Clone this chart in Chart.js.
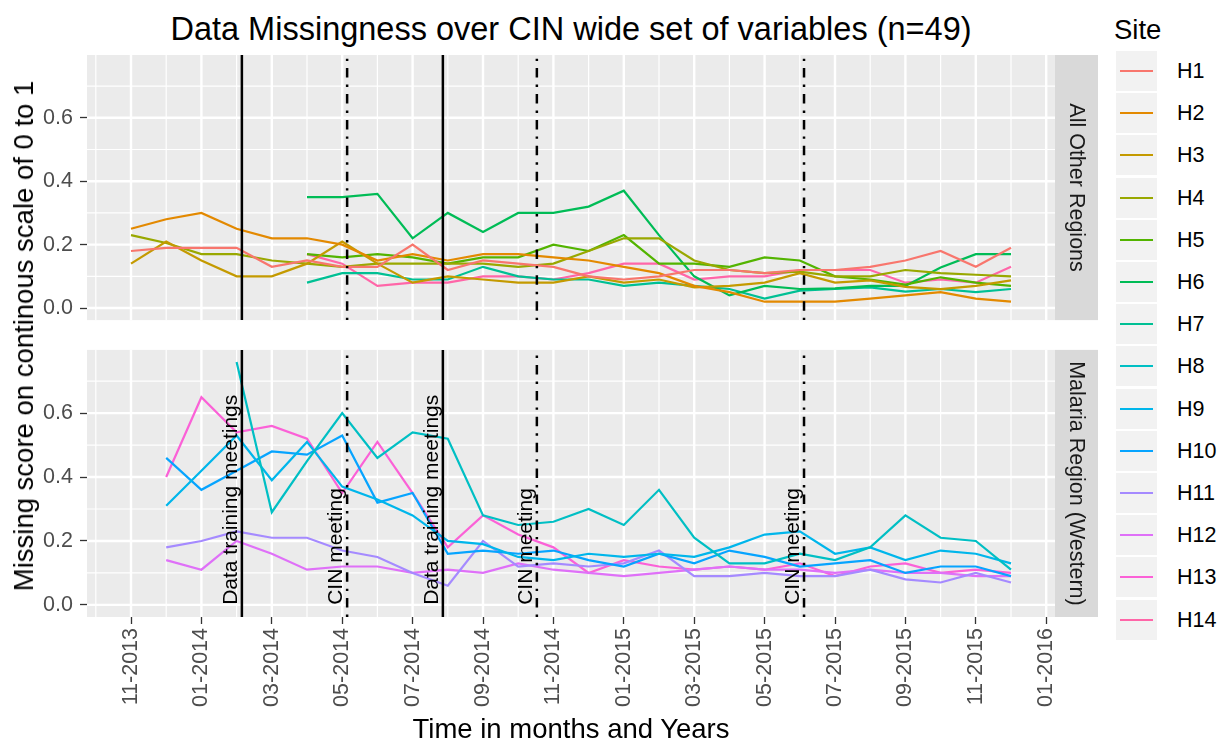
<!DOCTYPE html>
<html>
<head>
<meta charset="utf-8">
<script src="https://cdn.jsdelivr.net/npm/chart.js@4.4.1/dist/chart.umd.min.js"></script>
<style>
  body { margin: 0; background: #fff; }
  #wrap { position: relative; width: 1218px; height: 743px; font-family: "Liberation Sans", Arial, sans-serif; }
  canvas { position: absolute; left: 0; }
  .txt { position: absolute; color: #000; white-space: nowrap; }
  #legend { position: absolute; left: 1114px; top: 12px; }
  .key-row { position: absolute; left: 0; height: 42px; width: 110px; }
  .key { position: absolute; left: 2px; top: 0; width: 41px; height: 40px; background: #F2F2F2; }
  .key span { position: absolute; left: 4px; right: 4px; top: 19px; height: 2px; }
  .lab { position: absolute; left: 63px; top: 8px; font-size: 21.5px; color: #000; }
</style>
</head>
<body>
<div id="wrap">
  <div class="txt" style="left:86px;width:970px;text-align:center;top:9px;font-size:32.5px;line-height:40px;">Data Missingness over CIN wide set of variables (n=49)</div>
  <canvas id="topPanel" width="1100" height="340" style="top:0"></canvas>
  <canvas id="bottomPanel" width="1100" height="413" style="top:330px"></canvas>
  <div class="txt" style="left:86px;width:970px;text-align:center;top:713px;font-size:27.5px;line-height:32px;">Time in months and Years</div>
  <div class="txt" style="left:24px;top:336px;font-size:27.5px;line-height:32px;transform:translate(-50%,-50%) rotate(-90deg);">Missing score on continous scale of 0 to 1</div>
  <div id="legend"></div>
</div>
<script>
// month index 0 = 11-2013 ... 25 = 12-2015
const months = ['11-2013','12-2013','01-2014','02-2014','03-2014','04-2014','05-2014','06-2014','07-2014','08-2014',
  '09-2014','10-2014','11-2014','12-2014','01-2015','02-2015','03-2015','04-2015','05-2015','06-2015',
  '07-2015','08-2015','09-2015','10-2015','11-2015','12-2015'];
const tickMonths = [0,2,4,6,8,10,12,14,16,18,20,22,24,26];
const tickLabels = ['11-2013','01-2014','03-2014','05-2014','07-2014','09-2014','11-2014','01-2015','03-2015','05-2015','07-2015','09-2015','11-2015','01-2016'];
const minorMonths = [-1,1,3,5,7,9,11,13,15,17,19,21,23,25];
const yTicks = [0, 0.2, 0.4, 0.6];
const yMinor = [0.1, 0.3, 0.5, 0.7];

const sites = ['H1','H2','H3','H4','H5','H6','H7','H8','H9','H10','H11','H12','H13','H14'];
const siteColors = ['#F8766D','#E38900','#C49A00','#99A800','#53B400','#00BC56','#00C094',
  '#00BFC4','#00B6EB','#06A4FF','#A58AFF','#DF70F8','#FB61D7','#FF66A8'];
const topSites = ['H1','H2','H3','H4','H5','H6','H7','H14'];
const bottomSites = ['H8','H9','H10','H11','H12','H13'];

// All Other Regions
const H1 = [0.18,0.19,0.19,0.19,0.13,0.15,0.13,0.13,0.20,0.12,0.15,0.14,0.13,0.10,0.09,0.10,0.12,0.12,0.11,0.12,0.12,0.13,0.15,0.18,0.13,0.19];
const H2 = [0.25,0.28,0.30,0.25,0.22,0.22,0.20,0.15,0.17,0.15,0.17,0.17,0.16,0.15,0.13,0.11,0.07,0.05,0.02,0.02,0.02,0.03,0.04,0.05,0.03,0.02];
const H3 = [0.14,0.21,0.15,0.10,0.10,0.14,0.21,0.14,0.08,0.10,0.09,0.08,0.08,0.10,0.08,0.09,0.065,0.07,0.08,0.11,0.08,0.087,0.067,0.06,0.07,0.087];
const H4 = [0.23,0.205,0.17,0.17,0.15,0.14,0.13,0.14,0.14,0.14,0.14,0.13,0.14,0.18,0.22,0.22,0.15,0.12,0.11,0.115,0.10,0.10,0.12,0.11,0.105,0.10];
const H5 = [null,null,null,null,null,0.17,0.16,0.17,0.16,0.14,0.16,0.16,0.20,0.18,0.23,0.14,0.14,0.13,0.16,0.15,0.10,0.09,0.074,0.097,0.08,0.07];
const H6 = [null,null,null,null,null,0.35,0.35,0.36,0.22,0.30,0.24,0.30,0.30,0.32,0.37,0.23,0.10,0.04,0.07,0.06,0.062,0.07,0.07,0.128,0.17,0.17];
const H7 = [null,null,null,null,null,0.08,0.11,0.11,0.09,0.09,0.13,0.10,0.09,0.09,0.07,0.08,0.07,0.06,0.03,0.055,0.06,0.065,0.052,0.06,0.05,0.06];
const H14 = [null,null,null,null,null,0.17,0.14,0.07,0.08,0.08,0.10,0.10,0.09,0.11,0.14,0.14,0.09,0.10,0.10,0.12,0.12,0.12,0.08,0.09,0.08,0.13];
// Malaria Region (Western)
const H8 = [null,null,null,0.76,0.29,0.45,0.60,0.46,0.54,0.52,0.28,0.25,0.26,0.30,0.25,0.36,0.21,0.13,0.13,0.16,0.14,0.18,0.28,0.21,0.20,0.11];
const H9 = [null,0.31,0.42,0.53,0.39,0.51,0.37,0.33,0.28,0.20,0.19,0.15,0.14,0.16,0.15,0.16,0.15,0.18,0.22,0.23,0.16,0.18,0.14,0.17,0.16,0.13];
const H10 = [null,0.46,0.36,0.42,0.48,0.47,0.53,0.32,0.35,0.16,0.17,0.16,0.17,0.14,0.12,0.16,0.13,0.17,0.15,0.12,0.13,0.14,0.10,0.12,0.12,0.09];
const H11 = [null,0.18,0.20,0.23,0.21,0.21,0.17,0.15,0.10,0.06,0.20,0.12,0.13,0.12,0.13,0.17,0.09,0.09,0.10,0.09,0.09,0.11,0.08,0.07,0.10,0.07];
const H12 = [null,0.14,0.11,0.20,0.16,0.11,0.12,0.12,0.10,0.11,0.10,0.13,0.11,0.10,0.09,0.10,0.11,0.12,0.11,0.11,0.10,0.11,0.10,0.10,0.09,0.09];
const H13 = [null,0.40,0.65,0.54,0.56,0.52,0.35,0.51,0.35,0.18,0.28,0.22,0.18,0.10,0.14,0.12,0.11,0.12,0.11,0.13,0.09,0.12,0.13,0.10,0.11,0.10];

const siteData = {H1, H2, H3, H4, H5, H6, H7, H8, H9, H10, H11, H12, H13, H14};

// meeting dates as fractional month index
const trainingMeetings = [3.15, 8.86];
const cinMeetings = [6.14, 11.53, 19.12];

const xMin = -1.25, xMax = 26.25;
const yMin = -0.038, yMax = 0.798;
const FONT = '"Liberation Sans", Arial, sans-serif';

function makeDataset(site) {
  const vals = siteData[site];
  const pts = [];
  vals.forEach((v, i) => { if (v !== null) pts.push({x: i, y: v}); });
  return {
    label: site,
    data: pts,
    borderColor: siteColors[sites.indexOf(site)],
    borderWidth: 2.2,
    pointRadius: 0,
    fill: false,
    tension: 0
  };
}

function yAxis() {
  return {
    type: 'linear', min: yMin, max: yMax,
    afterBuildTicks: s => { s.ticks = yTicks.map(v => ({value: v})); },
    afterFit: s => { s.width = 87; },
    grid: {drawOnChartArea: false, tickColor: '#333333', tickLength: 7, tickWidth: 1.3},
    border: {display: false},
    ticks: {color: '#4D4D4D', padding: 7, font: {size: 21.5, family: FONT}, callback: v => v.toFixed(1)}
  };
}

function panelPlugin(stripText, withNotes) {
  return {
    id: 'panel',
    beforeDatasetsDraw(chart) {
      const {ctx, chartArea: a} = chart;
      const x = chart.scales.x, y = chart.scales.y;
      ctx.save();
      ctx.fillStyle = '#EBEBEB';
      ctx.fillRect(a.left, a.top, a.right - a.left, a.bottom - a.top);
      ctx.strokeStyle = '#FFFFFF';
      ctx.lineWidth = 1.2;
      ctx.beginPath();
      minorMonths.forEach(m => { const p = x.getPixelForValue(m); ctx.moveTo(p, a.top); ctx.lineTo(p, a.bottom); });
      yMinor.forEach(v => { const p = y.getPixelForValue(v); ctx.moveTo(a.left, p); ctx.lineTo(a.right, p); });
      ctx.stroke();
      ctx.lineWidth = 2.4;
      ctx.beginPath();
      tickMonths.forEach(m => { const p = x.getPixelForValue(m); ctx.moveTo(p, a.top); ctx.lineTo(p, a.bottom); });
      yTicks.forEach(v => { const p = y.getPixelForValue(v); ctx.moveTo(a.left, p); ctx.lineTo(a.right, p); });
      ctx.stroke();
      ctx.restore();
    },
    afterDatasetsDraw(chart) {
      const {ctx, chartArea: a} = chart;
      const x = chart.scales.x, y = chart.scales.y;
      ctx.save();
      ctx.strokeStyle = '#000';
      ctx.lineWidth = 2.5;
      trainingMeetings.forEach(m => {
        const p = x.getPixelForValue(m);
        ctx.setLineDash([]);
        ctx.beginPath(); ctx.moveTo(p, a.bottom); ctx.lineTo(p, a.top); ctx.stroke();
      });
      cinMeetings.forEach(m => {
        const p = x.getPixelForValue(m);
        ctx.setLineDash([2.4, 7, 9.5, 7]);
        ctx.beginPath(); ctx.moveTo(p, a.bottom); ctx.lineTo(p, a.top); ctx.stroke();
      });
      ctx.setLineDash([]);
      if (withNotes) {
        ctx.fillStyle = '#000';
        ctx.font = '21px ' + FONT;
        ctx.textAlign = 'left';
        ctx.textBaseline = 'alphabetic';
        const y0 = y.getPixelForValue(0);
        const note = (m, txt) => {
          ctx.save();
          ctx.translate(x.getPixelForValue(m) - 5, y0);
          ctx.rotate(-Math.PI / 2);
          ctx.fillText(txt, 0, 0);
          ctx.restore();
        };
        trainingMeetings.forEach(m => note(m, 'Data training meetings'));
        cinMeetings.forEach(m => note(m, 'CIN meeting'));
      }
      ctx.restore();
    },
    afterDraw(chart) {
      const {ctx, chartArea: a} = chart;
      ctx.save();
      ctx.fillStyle = '#D9D9D9';
      ctx.fillRect(a.right, a.top, 43, a.bottom - a.top);
      ctx.fillStyle = '#1A1A1A';
      ctx.font = '21.5px ' + FONT;
      ctx.textAlign = 'center';
      ctx.textBaseline = 'middle';
      ctx.translate(a.right + 21.5, (a.top + a.bottom) / 2);
      ctx.rotate(Math.PI / 2);
      ctx.fillText(stripText, 0, 1);
      ctx.restore();
    }
  };
}

new Chart(document.getElementById('topPanel'), {
  type: 'line',
  data: {datasets: topSites.map(makeDataset)},
  options: {
    responsive: false,
    animation: false,
    layout: {padding: {left: 0, right: 45, top: 55, bottom: 11}},
    plugins: {legend: {display: false}, tooltip: {enabled: false}},
    scales: {
      x: {type: 'linear', min: xMin, max: xMax, display: false},
      y: yAxis()
    }
  },
  plugins: [panelPlugin('All Other Regions', false)]
});

new Chart(document.getElementById('bottomPanel'), {
  type: 'line',
  data: {datasets: bottomSites.map(makeDataset)},
  options: {
    responsive: false,
    animation: false,
    layout: {padding: {left: 0, right: 45, top: 13, bottom: 0}},
    plugins: {legend: {display: false}, tooltip: {enabled: false}},
    scales: {
      x: {
        type: 'linear', min: xMin, max: xMax,
        afterBuildTicks: s => { s.ticks = tickMonths.map(v => ({value: v})); },
        afterFit: s => { s.height = 126; },
        grid: {drawOnChartArea: false, tickColor: '#333333', tickLength: 7, tickWidth: 1.3},
        border: {display: false},
        ticks: {
          color: '#4D4D4D', padding: 4, autoSkip: false, minRotation: 90, maxRotation: 90,
          font: {size: 21.5, family: FONT},
          callback: v => tickLabels[tickMonths.indexOf(v)]
        }
      },
      y: yAxis()
    }
  },
  plugins: [panelPlugin('Malaria Region (Western)', true)]
});

// legend
const legend = document.getElementById('legend');
legend.innerHTML = '<div style="position:absolute;left:0;top:0;font-size:27.5px;line-height:36px;">Site</div>';
sites.forEach((s, i) => {
  const row = document.createElement('div');
  row.className = 'key-row';
  row.style.top = (39 + i * 42.2) + 'px';
  row.innerHTML = '<div class="key"><span style="background:' + siteColors[i] + '"></span></div><div class="lab">' + s + '</div>';
  legend.appendChild(row);
});
</script>
</body>
</html>
